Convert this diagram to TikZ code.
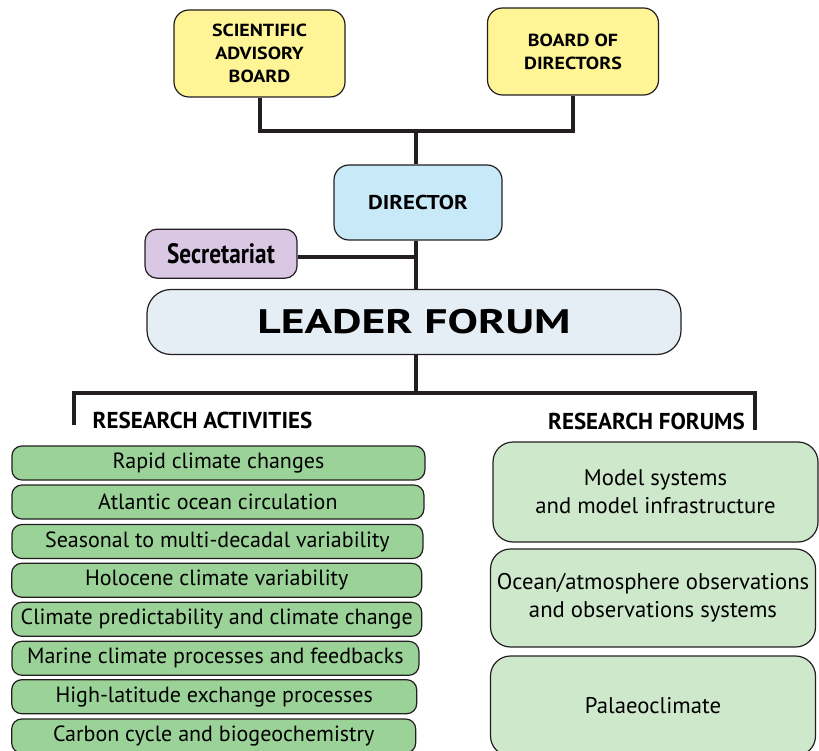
\documentclass[tikz,border=0pt]{standalone}
\usepackage{fontspec}
\setmainfont{PT Sans}
\newfontfamily\narrowfont[FakeStretch=0.83]{PT Sans}
\newfontfamily\widefont[FakeStretch=1.14]{PT Sans}
\newfontfamily\extrafont[FakeStretch=1.34]{PT Sans}
\usetikzlibrary{positioning}

\definecolor{boardyellow}{RGB}{255,244,150}
\definecolor{dirblue}{RGB}{199,233,248}
\definecolor{seclilac}{RGB}{217,199,228}
\definecolor{leadgrey}{RGB}{230,238,245}
\definecolor{actgreen}{RGB}{155,210,152}
\definecolor{forgreen}{RGB}{206,232,203}
\definecolor{ink}{RGB}{35,31,32}

\tikzset{
  box/.style={draw=ink,line width=1.2pt,rounded corners=15pt,align=center,inner sep=0pt},
  board/.style={box,fill=boardyellow,minimum width=171pt,minimum height=87pt,
    font=\fontsize{17.5}{23}\selectfont\widefont\bfseries},
  act/.style={box,fill=actgreen,rounded corners=10pt,minimum height=34pt,
    font=\fontsize{22}{24}\selectfont},
  forum/.style={box,fill=forgreen,rounded corners=20pt,minimum width=325pt,
    font=\fontsize{22.7}{28}\selectfont},
  head/.style={font=\fontsize{23}{24}\selectfont\bfseries,inner sep=0pt},
  wire/.style={draw=ink,line width=4pt}
}

\begin{document}
\begin{tikzpicture}[x=1pt,y=-1pt]
  \useasboundingbox (0,0) rectangle (819,751);
  \node[board] (sab) at (259.5,53.5) {SCIENTIFIC\\ADVISORY\\BOARD};
  \node[board] (bod) at (573,51.5) {BOARD OF\\DIRECTORS};
  \node[box,fill=dirblue,minimum width=168pt,minimum height=75pt,
    font=\fontsize{20}{24}\selectfont\widefont\bfseries] (dir) at (418,202.5) {DIRECTOR};
  \node[box,fill=seclilac,minimum width=152pt,minimum height=49pt,rounded corners=12pt,
    font=\fontsize{28}{30}\selectfont\narrowfont\bfseries] (sec) at (221,253.7) {Secretariat};
  \node[box,fill=leadgrey,minimum width=534pt,minimum height=65pt,rounded corners=24pt,
    font=\fontsize{34}{36}\selectfont\extrafont\bfseries] (lead) at (414,322) {LEADER FORUM};

  \node[head] (acthead) at (202.5,420) {RESEARCH ACTIVITIES};
  \node[head] (forhead) at (646.5,421) {RESEARCH FORUMS};

  % research activities
  \node[act,minimum width=413pt] (act1) at (218.4,463) {Rapid climate changes};
  \node[act,minimum width=412pt] (act2) at (217.9,502) {Atlantic ocean circulation};
  \node[act,minimum width=411pt] (act3) at (217.4,541.5) {Seasonal to multi-decadal variability};
  \node[act,minimum width=410pt] (act4) at (216.7,580.3) {Holocene climate variability};
  \node[act,minimum width=410pt] (act5) at (216.7,619.3) {Climate predictability and climate change};
  \node[act,minimum width=407pt] (act6) at (215.4,658.3) {Marine climate processes and feedbacks};
  \node[act,minimum width=405pt] (act7) at (214.2,696.7) {High-latitude exchange processes};
  \node[act,minimum width=404pt] (act8) at (213.7,736) {Carbon cycle and biogeochemistry};

  % research forums
  \node[forum,minimum height=100pt] (for1) at (655.5,492) {Model systems\\and model infrastructure};
  \node[forum,minimum height=98pt] (for2) at (653,598) {Ocean/atmosphere observations\\and observations systems};
  \node[forum,minimum height=100pt] (for3) at (653,706) {Palaeoclimate};

  \coordinate (hub) at (416,131);
  \coordinate (split) at (416,393);
  \coordinate (actend) at (74,425);
  \coordinate (forend) at (755,430);
  \draw[wire] (sab.south) |- (hub) -| (bod.south);
  \draw[wire] (hub) -- (hub |- dir.north);
  \draw[wire] (hub |- dir.south) -- (hub |- lead.north);
  \draw[wire] ([yshift=-3.5pt]sec.east) -- ([yshift=-3.5pt]sec.east -| hub);
  \draw[wire] (hub |- lead.south) -- (split);
  \draw[wire] (actend) |- (split) -| (forend);
\end{tikzpicture}
\end{document}
